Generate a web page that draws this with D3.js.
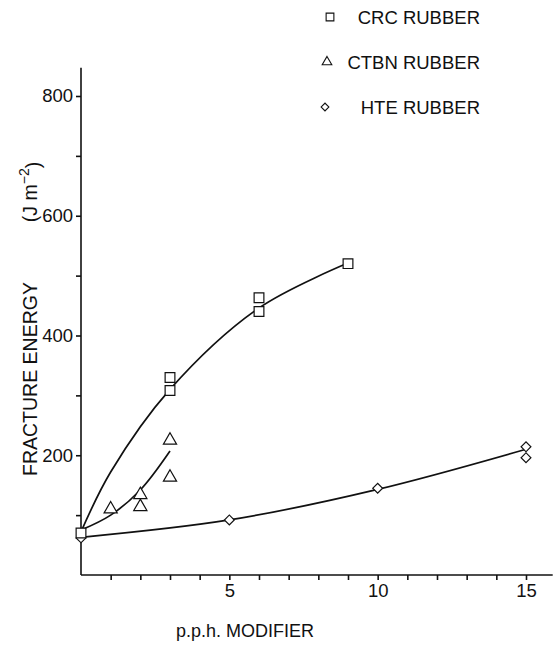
<!DOCTYPE html>
<html><head><meta charset="utf-8">
<script src="https://cdn.jsdelivr.net/npm/d3@7"></script>
<style>body{margin:0;background:#fff}svg{display:block}text{font-family:"Liberation Sans",Arial,sans-serif;fill:#111}</style>
</head><body><svg id="c" width="557" height="645"></svg>
<script>
// data
const crcPoints = [[0,70],[3,308],[3,330],[6,440],[6,463],[9,520]];
const ctbnPoints = [[1,110],[2,134],[2,114],[3,225],[3,163]];
const htePoints = [[0,62],[5,92],[10,145],[15,214],[15,196]];
const crcCurve = [[0,72],[1,172],[3,310],[6,446],[9,521]];
const ctbnCurve = [[0,75],[1,100],[2,142],[3,207]];
const hteCurve = [[0,63],[5,92],[10,143],[15,210]];
const xTicks = [1,2,3,4,5,6,7,8,9,10,11,12,13,14,15];
const xLabels = [5,10,15];
const yTicks = [100,200,300,400,500,600,700,800];
const yLabels = [200,400,600,800];
const legendNames = ["CRC RUBBER","CTBN RUBBER","HTE RUBBER"];

const svg = d3.select("#c");
const x = d3.scaleLinear().domain([0,15]).range([81,526]);
const y = d3.scaleLinear().domain([0,800]).range([575,96]);
const g = svg.append("g");

// axes
const xAxis = d3.axisBottom(x).tickValues(xTicks).tickSize(5).tickFormat(d => xLabels.includes(d) ? d : "");
const yAxis = d3.axisLeft(y).tickValues(yTicks).tickSize(5).tickFormat(d => yLabels.includes(d) ? d : "");
const gx = g.append("g").attr("transform", `translate(0,${y(0)})`).call(xAxis);
gx.select(".domain").attr("d", `M${x(0)},0H${x(15.9)}`);
const gy = g.append("g").attr("transform", `translate(${x(0)},0)`).call(yAxis);
gy.select(".domain").attr("d", `M0,${y(0)}V${y(847)}`);
[gx, gy].forEach(a => {
  a.selectAll("path,line").attr("stroke","#111").attr("stroke-width",1.6);
  a.selectAll("text").style("font-size","18.5px").attr("fill","#111");
});
gx.selectAll("text").attr("y",8).attr("dy","0.75em");
gy.selectAll("text").attr("x",-8);

// curves
const line = d3.line().x(d => x(d[0])).y(d => y(d[1])).curve(d3.curveCatmullRom.alpha(0.5));
[crcCurve, ctbnCurve, hteCurve].forEach(c => {
  g.append("path").attr("d", line(c)).attr("fill","none").attr("stroke","#111").attr("stroke-width",1.7);
});

// symbols
const sq = d3.symbol().type(d3.symbolSquare).size(95);
const tri = d3.symbol().type(d3.symbolTriangle).size(75);
const dia = d3.symbol().type(d3.symbolSquare).size(48);
function draw(points, sym, rot) {
  g.selectAll(null).data(points).enter().append("path")
    .attr("d", sym).attr("transform", d => `translate(${x(d[0])},${y(d[1])}) rotate(${rot})`)
    .attr("fill","#fff").attr("stroke","#111").attr("stroke-width",1.2);
}
draw(htePoints, dia, 45);
draw(crcPoints, sq, 0);
draw(ctbnPoints, tri, 0);

// legend
const lsq = d3.symbol().type(d3.symbolSquare).size(60);
const ltri = d3.symbol().type(d3.symbolTriangle).size(40);
const ldia = d3.symbol().type(d3.symbolSquare).size(30);
const syms = [lsq, ltri, ldia];
const rots = [0, 0, 45];
const legY = [17, 62, 107];
const legSymX = [330, 327, 325];
legendNames.forEach((n, i) => {
  svg.append("path").attr("d", syms[i]).attr("transform", `translate(${legSymX[i]},${legY[i]}) rotate(${rots[i]})`)
    .attr("fill","#fff").attr("stroke","#111").attr("stroke-width",1.1);
  svg.append("text").attr("x",480).attr("y",legY[i]).attr("dy","0.36em").attr("text-anchor","end")
    .style("font-size","18.5px").text(n);
});

// axis titles
svg.append("text").attr("x",245).attr("y",637).attr("text-anchor","middle").style("font-size","18px").text("p.p.h. MODIFIER");
svg.append("text").attr("transform","translate(37,379) rotate(-90)").attr("text-anchor","middle").style("font-size","19.5px").text("FRACTURE ENERGY");
const yt = svg.append("text").attr("transform","translate(37,192) rotate(-90)").attr("text-anchor","middle").style("font-size","19.5px");
yt.append("tspan").text("(J m");
yt.append("tspan").attr("dy","-0.55em").style("font-size","14px").text("−2");
yt.append("tspan").attr("dy","0.55em").text(")");
</script></body></html>
